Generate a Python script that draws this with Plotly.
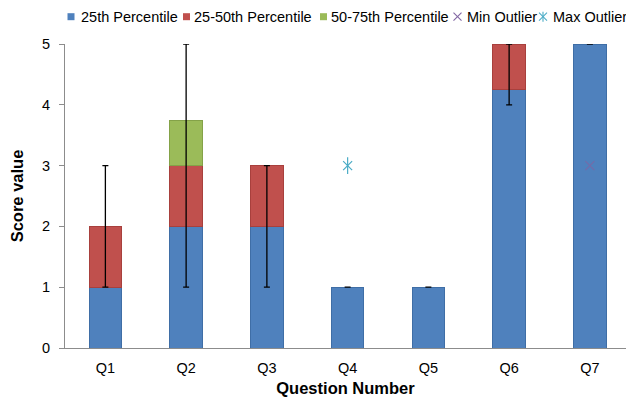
import plotly.graph_objects as go

# ---- data ----
questions = ["Q1", "Q2", "Q3", "Q4", "Q5", "Q6", "Q7"]
p25 = [1, 2, 2, 1, 1, 4.25, 5]
p25_50 = [1, 1, 1, None, None, 0.75, None]
p50_75 = [None, 0.75, None, None, None, None, None]
whisker_low = [1, 1, 1, 1, 1, 4, 5]
whisker_high = [3, 5, 3, 1, 1, 5, 5]
min_outlier = [None, None, None, None, None, None, 3]
max_outlier = [None, None, None, 3, None, None, None]
y_ticks = [0, 1, 2, 3, 4, 5]
legend_labels = ["25th Percentile", "25-50th Percentile", "50-75th Percentile",
                 "Min Outlier", "Max Outlier"]

# ---- style ----
W, H = 626, 401
ML, MR, MT, MB = 65, 0, 44, 53
PW, PH = W - ML - MR, H - MT - MB
FONT = "Liberation Sans, Arial, sans-serif"
C_BLUE, C_RED, C_GREEN = "#4F81BD", "#C0504D", "#9BBB59"
C_PURPLE, C_CYAN = "#8064A2", "#4BACC6"
AXIS_GRAY = "#8C8C8C"


def px_x(px):
    return (px - ML) / PW


def px_y(py):
    return (H - MB - py) / PH


tops = [sum(v for v in vals if v is not None) for vals in zip(p25, p25_50, p50_75)]
err_plus = [h - t for h, t in zip(whisker_high, tops)]
err_minus = [t - l for t, l in zip(tops, whisker_low)]

fig = go.Figure()
for name, vals, col, edge in [
    (legend_labels[0], p25, C_BLUE, "#3F6EA6"),
    (legend_labels[1], p25_50, C_RED, "#A8403D"),
    (legend_labels[2], p50_75, C_GREEN, "#84A248"),
]:
    fig.add_trace(go.Bar(
        x=questions, y=vals, name=name, width=0.4,
        marker=dict(color=col, line=dict(color=edge, width=1)),
        showlegend=False,
    ))

fig.add_trace(go.Scatter(
    x=questions, y=tops, mode="markers",
    marker=dict(size=1, opacity=0),
    error_y=dict(type="data", symmetric=False, array=err_plus, arrayminus=err_minus,
                 color="#000000", thickness=1.3, width=3),
    showlegend=False, hoverinfo="skip",
))
fig.add_trace(go.Scatter(
    x=questions, y=min_outlier, mode="markers", name=legend_labels[3],
    marker=dict(symbol="x-thin-open", size=9, line=dict(color=C_PURPLE, width=1.2),
                color=C_PURPLE, opacity=0.75),
    showlegend=False,
))
# Excel-style star marker: an "x" plus a vertical stroke
for sym, sz in [("x-thin-open", 9), ("line-ns-open", 12)]:
    fig.add_trace(go.Scatter(
        x=questions, y=max_outlier, mode="markers", name=legend_labels[4],
        marker=dict(symbol=sym, size=sz, line=dict(color=C_CYAN, width=1.2),
                    color=C_CYAN),
        showlegend=False,
    ))

# ---- custom compact legend (top row) ----
leg_y = 16.7
text_x = [78.5, 192, 328.5, 464.5, 550.5]
sym_x = [71, 186.5, 323.5, 457.5, 543]
sym_col = [C_BLUE, C_RED, C_GREEN, C_PURPLE, C_CYAN]
shapes = []
annotations = []
for i, lab in enumerate(legend_labels):
    annotations.append(dict(
        xref="paper", yref="paper", x=px_x(text_x[i]), y=px_y(leg_y),
        xanchor="left", yanchor="middle", showarrow=False, text=lab,
        font=dict(family=FONT, size=14.5, color="#000000"),
    ))
    cx, cy = sym_x[i], leg_y
    if i < 3:
        shapes.append(dict(type="rect", xref="paper", yref="paper",
                           x0=px_x(cx - 3.5), x1=px_x(cx + 3.5),
                           y0=px_y(cy + 3.5), y1=px_y(cy - 3.5),
                           fillcolor=sym_col[i], line=dict(width=0)))
    else:
        r = 4
        segs = [(-r, -r, r, r), (-r, r, r, -r)]
        if i == 4:
            segs.append((0, -r - 1, 0, r + 1))
        for (dx0, dy0, dx1, dy1) in segs:
            shapes.append(dict(type="line", xref="paper", yref="paper",
                               x0=px_x(cx + dx0), y0=px_y(cy + dy0),
                               x1=px_x(cx + dx1), y1=px_y(cy + dy1),
                               line=dict(color=sym_col[i], width=1.1)))

cat_w = 80.75
fig.update_layout(
    width=W, height=H,
    margin=dict(l=ML, r=MR, t=MT, b=MB, autoexpand=False),
    barmode="stack",
    plot_bgcolor="white", paper_bgcolor="white",
    font=dict(family=FONT, size=14.5, color="#000000"),
    shapes=shapes, annotations=annotations,
    xaxis=dict(
        range=[-0.5, -0.5 + PW / cat_w], automargin=False,
        showline=True, linecolor=AXIS_GRAY, linewidth=1,
        ticks="outside", ticklen=7, tickcolor="rgba(0,0,0,0)",
        showgrid=False, zeroline=False,
        tickfont=dict(size=14.5, color="#000000"),
        title=dict(text="<b>Question Number</b>", font=dict(size=16.5, color="#000000"),
                   standoff=7),
    ),
    yaxis=dict(
        range=[0, 5], tickvals=y_ticks, automargin=False,
        showline=True, linecolor=AXIS_GRAY, linewidth=1,
        ticks="outside", ticklen=5, tickcolor=AXIS_GRAY,
        ticklabelstandoff=6,
        showgrid=False, zeroline=False,
        tickfont=dict(size=14.5, color="#000000"),
        title=dict(text="<b>Score value</b>", font=dict(size=16.5, color="#000000"),
                   standoff=14),
    ),
)

fig.write_html("out.html",
               config={"displayModeBar": False},
               post_script="document.body.style.margin='0';"
                           "document.documentElement.style.margin='0';")
